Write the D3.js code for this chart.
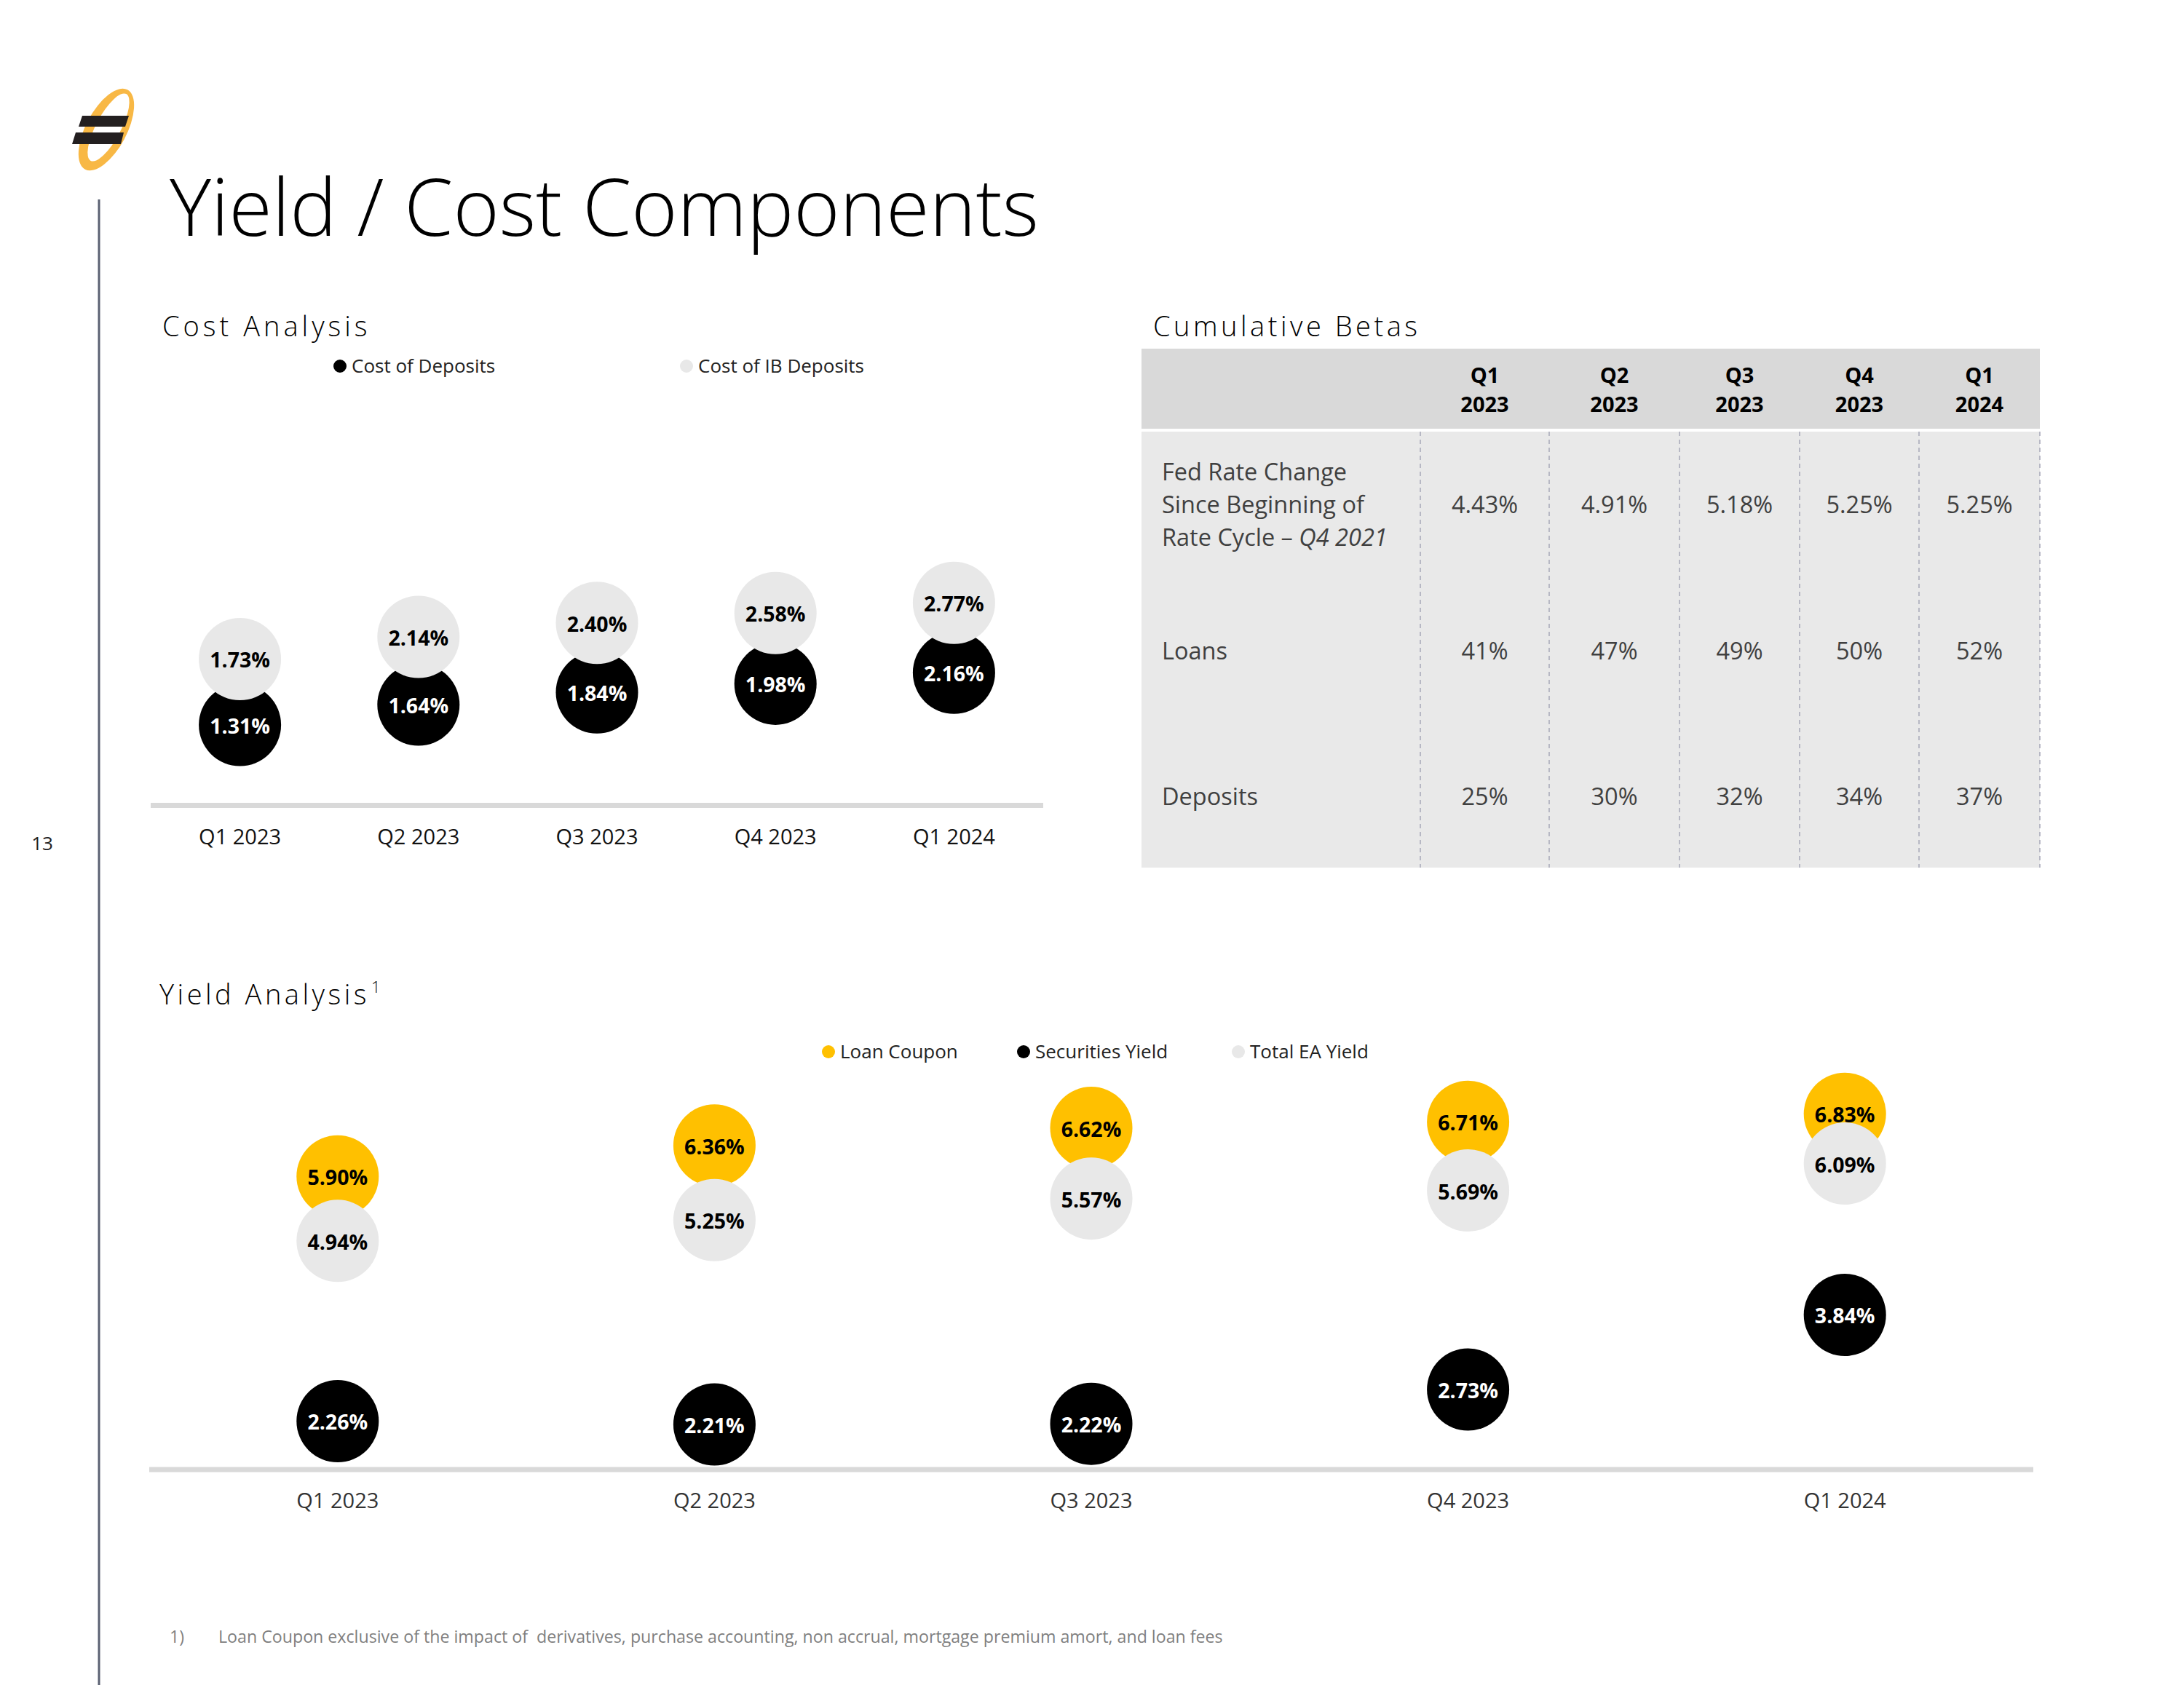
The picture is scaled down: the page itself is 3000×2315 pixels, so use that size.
<!DOCTYPE html>
<html>
<head>
<meta charset="utf-8">
<script src="https://cdn.jsdelivr.net/npm/d3@7"></script>
<style>
  html, body { margin: 0; padding: 0; background: #fff; }
  svg { display: block; font-family: "Open Sans", "Noto Sans", sans-serif; }
</style>
</head>
<body>
<div id="chart"></div>
<script>
// ---------------- DATA ----------------
const categories = ["Q1 2023", "Q2 2023", "Q3 2023", "Q4 2023", "Q1 2024"];

// Cost Analysis
const costOfDeposits   = [1.31, 1.64, 1.84, 1.98, 2.16];
const costOfIBDeposits = [1.73, 2.14, 2.40, 2.58, 2.77];

// Yield Analysis
const loanCoupon      = [5.90, 6.36, 6.62, 6.71, 6.83];
const securitiesYield = [2.26, 2.21, 2.22, 2.73, 3.84];
const totalEAYield    = [4.94, 5.25, 5.57, 5.69, 6.09];

// Cumulative Betas table
const betaQuarters   = [["Q1", "2023"], ["Q2", "2023"], ["Q3", "2023"], ["Q4", "2023"], ["Q1", "2024"]];
const fedRateChange  = [4.43, 4.91, 5.18, 5.25, 5.25];
const loanBetas      = [41, 47, 49, 50, 52];
const depositBetas   = [25, 30, 32, 34, 37];

const costLegend  = ["Cost of Deposits", "Cost of IB Deposits"];
const yieldLegend = ["Loan Coupon", "Securities Yield", "Total EA Yield"];

// ---------------- STYLE / LAYOUT ----------------
const W = 3000, H = 2315;
const GOLD = "#FFC000", BLACK = "#000000", LIGHT = "#E8E8E8", AXIS = "#D9D9D9";
const R = 56.5;
const pct = d3.format(".2f");

const svg = d3.select("#chart").append("svg")
  .attr("width", W).attr("height", H).attr("viewBox", `0 0 ${W} ${H}`);

svg.append("rect").attr("width", W).attr("height", H).attr("fill", "#fff");

// ---------- Logo ----------
const logo = svg.append("g");
logo.append("ellipse").attr("cx", 146).attr("cy", 178).attr("rx", 62).attr("ry", 28)
  .attr("transform", "rotate(-62 146 178)").attr("fill", "#F8B845");
logo.append("ellipse").attr("cx", 149).attr("cy", 175).attr("rx", 52).attr("ry", 17)
  .attr("transform", "rotate(-62 149 175)").attr("fill", "#fff");
logo.append("path").attr("d", "M113,159 L177,159 L172,174 L108,174 Z").attr("fill", "#231F20");
logo.append("path").attr("d", "M104,182 L170,182 L166,198 L99,198 Z").attr("fill", "#231F20");

// ---------- Left rule & page number ----------
svg.append("line").attr("x1", 136).attr("x2", 136).attr("y1", 274).attr("y2", H)
  .attr("stroke", "#5B6172").attr("stroke-width", 3);
svg.append("text").attr("x", 58).attr("y", 1168).attr("text-anchor", "middle")
  .attr("font-size", 26).attr("fill", "#222").text("13");

// ---------- Title ----------
svg.append("text").attr("x", 233).attr("y", 324)
  .attr("font-size", 108).attr("font-weight", 300).attr("fill", "#000")
  .text("Yield / Cost Components");

// Section titles
function sectionTitle(x, y, txt, ls) {
  return svg.append("text").attr("x", x).attr("y", y)
    .attr("font-size", 38).attr("font-weight", 300).attr("letter-spacing", ls)
    .attr("fill", "#000").text(txt);
}
sectionTitle(223, 462, "Cost Analysis", 5);
sectionTitle(1584, 462, "Cumulative Betas", 4.5);
const ya = sectionTitle(219, 1380, "Yield Analysis", 4.5);
ya.append("tspan").attr("font-size", 22).attr("dy", -16).attr("dx", 2).text("1");

// ---------------- COST ANALYSIS ----------------
const xCost = d3.scaleBand().domain(categories).range([207, 1433]);
const yCostDep = d3.scaleLinear().domain([0, 3]).range([1106.5, 1106.5 - 3 * 84.4]);
const yCostIB  = d3.scaleLinear().domain([0, 3]).range([1034, 1034 - 3 * 74.3]);
const cx = d => xCost(d) + xCost.bandwidth() / 2;

// axis line
svg.append("line").attr("x1", xCost.range()[0]).attr("x2", xCost.range()[1])
  .attr("y1", yCostDep(0)).attr("y2", yCostDep(0))
  .attr("stroke", AXIS).attr("stroke-width", 7);

// category labels
svg.append("g").selectAll("text").data(categories).join("text")
  .attr("x", d => cx(d)).attr("y", 1160).attr("text-anchor", "middle")
  .attr("font-size", 29).attr("fill", "#111").text(d => d);

const costDepData = categories.map((c, i) => ({ c, v: costOfDeposits[i] }));
const costIBData  = categories.map((c, i) => ({ c, v: costOfIBDeposits[i] }));

function bubbles(g, data, xf, yf, fill, textFill) {
  const gg = g.append("g");
  gg.selectAll("circle").data(data).join("circle")
    .attr("cx", d => xf(d.c)).attr("cy", d => yf(d.v)).attr("r", R).attr("fill", fill);
  gg.selectAll("text").data(data).join("text")
    .attr("x", d => xf(d.c)).attr("y", d => yf(d.v) + 12)
    .attr("text-anchor", "middle").attr("font-size", 28.5).attr("font-weight", 700)
    .attr("fill", textFill).text(d => pct(d.v) + "%");
}
// black (Cost of Deposits) first, gray on top
bubbles(svg, costDepData, cx, yCostDep, BLACK, "#fff");
bubbles(svg, costIBData, cx, yCostIB, LIGHT, "#000");

// legend
const costLegG = svg.append("g");
[[467, BLACK], [943, LIGHT]].forEach((p, i) => {
  costLegG.append("circle").attr("cx", p[0]).attr("cy", 503).attr("r", 9).attr("fill", p[1]);
  costLegG.append("text").attr("x", p[0] + 16).attr("y", 512).attr("font-size", 26)
    .attr("fill", "#222").text(costLegend[i]);
});

// ---------------- YIELD ANALYSIS ----------------
const xYield = d3.scaleBand().domain(categories).range([205, 2793]);
const yYield = d3.scaleLinear().domain([1.54, 7]).range([2019, 2019 - 5.46 * 92.4]);
const yx = d => xYield(d) + xYield.bandwidth() / 2;

svg.append("line").attr("x1", xYield.range()[0]).attr("x2", xYield.range()[1])
  .attr("y1", yYield(1.54)).attr("y2", yYield(1.54))
  .attr("stroke", AXIS).attr("stroke-width", 7);

svg.append("g").selectAll("text").data(categories).join("text")
  .attr("x", d => yx(d)).attr("y", 2072).attr("text-anchor", "middle")
  .attr("font-size", 29).attr("fill", "#333").text(d => d);

const loanData = categories.map((c, i) => ({ c, v: loanCoupon[i] }));
const secData  = categories.map((c, i) => ({ c, v: securitiesYield[i] }));
const eaData   = categories.map((c, i) => ({ c, v: totalEAYield[i] }));
bubbles(svg, loanData, yx, yYield, GOLD, "#000");
bubbles(svg, secData, yx, yYield, BLACK, "#fff");
bubbles(svg, eaData, yx, yYield, LIGHT, "#000");

const yLegG = svg.append("g");
[[1138, GOLD], [1406, BLACK], [1701, LIGHT]].forEach((p, i) => {
  yLegG.append("circle").attr("cx", p[0]).attr("cy", 1445).attr("r", 9).attr("fill", p[1]);
  yLegG.append("text").attr("x", p[0] + 16).attr("y", 1454).attr("font-size", 26)
    .attr("fill", "#222").text(yieldLegend[i]);
});

// ---------------- CUMULATIVE BETAS TABLE ----------------
const colEdges = [1568, 1951, 2128, 2307, 2472, 2636, 2802];
const tbl = svg.append("g");
tbl.append("rect").attr("x", colEdges[0]).attr("y", 479)
  .attr("width", colEdges[6] - colEdges[0]).attr("height", 110).attr("fill", "#D9D9D9");
tbl.append("rect").attr("x", colEdges[0]).attr("y", 593)
  .attr("width", colEdges[6] - colEdges[0]).attr("height", 599).attr("fill", "#E9E9E9");
colEdges.slice(1).forEach(x => {
  tbl.append("line").attr("x1", x).attr("x2", x).attr("y1", 593).attr("y2", 1192)
    .attr("stroke", "#A6A8B8").attr("stroke-width", 1.5).attr("stroke-dasharray", "6,5");
});
const colCenter = i => (colEdges[i + 1] + colEdges[i + 2]) / 2;

betaQuarters.forEach((q, i) => {
  tbl.append("text").attr("x", colCenter(i)).attr("y", 526).attr("text-anchor", "middle")
    .attr("font-size", 29).attr("font-weight", 700).attr("fill", "#000").text(q[0]);
  tbl.append("text").attr("x", colCenter(i)).attr("y", 566).attr("text-anchor", "middle")
    .attr("font-size", 29).attr("font-weight", 700).attr("fill", "#000").text(q[1]);
});

const bodyFont = 32.5, bodyFill = "#404040";
const rowLabel = (y, txt) => tbl.append("text").attr("x", 1596).attr("y", y)
  .attr("font-size", bodyFont).attr("fill", bodyFill).text(txt);
rowLabel(660, "Fed Rate Change");
rowLabel(705, "Since Beginning of");
const rl3 = rowLabel(750, "Rate Cycle – ");
rl3.append("tspan").attr("font-style", "italic").text("Q4 2021");
rowLabel(906, "Loans");
rowLabel(1106, "Deposits");

const rowVals = (y, vals, fmt) => vals.forEach((v, i) => {
  tbl.append("text").attr("x", colCenter(i)).attr("y", y).attr("text-anchor", "middle")
    .attr("font-size", bodyFont).attr("fill", bodyFill).text(fmt(v));
});
rowVals(705, fedRateChange, v => pct(v) + "%");
rowVals(906, loanBetas, v => v + "%");
rowVals(1106, depositBetas, v => v + "%");

// ---------------- FOOTNOTE ----------------
svg.append("text").attr("x", 233).attr("y", 2257).attr("font-size", 23)
  .attr("fill", "#7F7F7F").text("1)");
svg.append("text").attr("x", 300).attr("y", 2257).attr("font-size", 23.2)
  .attr("fill", "#7F7F7F").style("white-space", "pre")
  .text("Loan Coupon exclusive of the impact of  derivatives, purchase accounting, non accrual, mortgage premium amort, and loan fees");
</script>
</body>
</html>
